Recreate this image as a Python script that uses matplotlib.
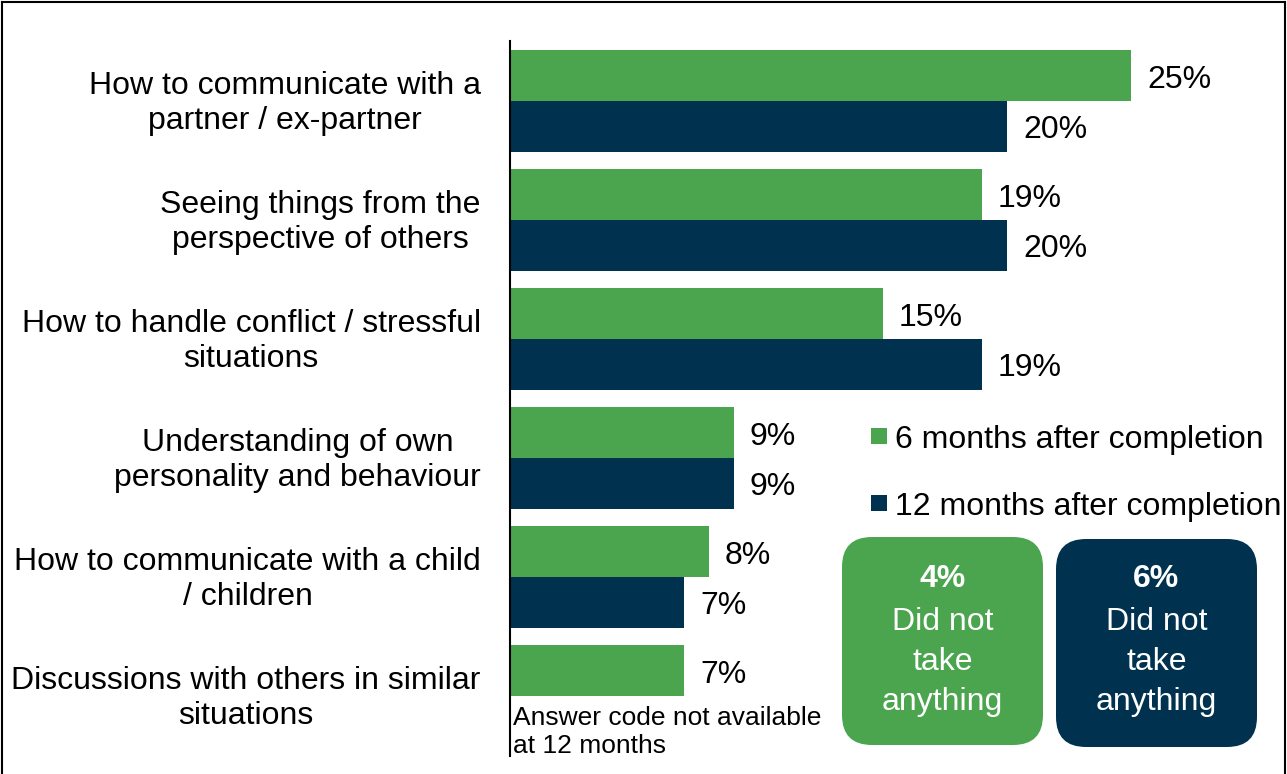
import matplotlib.pyplot as plt
from matplotlib.patches import FancyBboxPatch, Rectangle
from matplotlib.lines import Line2D
import numpy as np

plt.rcParams['font.family'] = ['Liberation Sans', 'DejaVu Sans']

categories = ['How to communicate with a\npartner / ex-partner',
              'Seeing things from the\nperspective of others',
              'How to handle conflict / stressful\nsituations',
              'Understanding of own\npersonality and behaviour',
              'How to communicate with a child\n/ children',
              'Discussions with others in similar\nsituations']
six_months = [25, 19, 15, 9, 8, 7]
twelve_months = [20, 20, 19, 9, 7, None]
series_names = ['6 months after completion', '12 months after completion']
nothing_taken = [4, 6]

green = '#4ba54f'
navy = '#00324f'
fs = 23

W, H = 1287, 774
fig = plt.figure(figsize=(W / 100, H / 100), dpi=100)

# axes placed in pixel terms: left edge 510, top 41, bottom 756
ax_left, ax_top, ax_bot, ax_right = 510, 41, 756, 1280
ax = fig.add_axes([ax_left / W, 1 - ax_bot / H, (ax_right - ax_left) / W, (ax_bot - ax_top) / H])

y = np.arange(len(categories))
h = 0.425
ax.barh(y - h / 2, six_months, height=h, color=green)
y12 = [yy for yy, v in zip(y, twelve_months) if v is not None]
v12 = [v for v in twelve_months if v is not None]
ax.barh(np.array(y12) + h / 2, v12, height=h, color=navy)

for yy, v in zip(y, six_months):
    ax.text(v + 0.65, yy - h / 2 + 0.035, f'{v}%', va='center', ha='left', fontsize=fs)
for yy, v in zip(y12, v12):
    ax.text(v + 0.65, yy + h / 2 + 0.035, f'{v}%', va='center', ha='left', fontsize=fs)

ax.set_xlim(0, (ax_right - ax_left) / 24.84)
ax.set_ylim(5.504, -0.504)
ax.set_yticks(y - 0.03)
ax.set_yticklabels(categories, fontsize=fs, ha='right', multialignment='center', linespacing=1.23)
ax.tick_params(axis='y', length=0, pad=21)
ax.set_xticks([])
for s in ['top', 'right', 'bottom']:
    ax.spines[s].set_visible(False)
ax.spines['left'].set_linewidth(1.5)

fig.text(513 / W, 1 - 706 / H, 'Answer code not available\nat 12 months', fontsize=19,
         va='top', ha='left', linespacing=1.22)

# legend drawn by hand
for i, (name, col) in enumerate(zip(series_names, [green, navy])):
    cy = 436 + 67 * i
    fig.patches.append(Rectangle((871 / W, 1 - (cy + 8) / H), 16 / W, 16 / H,
                                 transform=fig.transFigure, facecolor=col, edgecolor='none'))
    fig.text(895 / W, 1 - cy / H, name, fontsize=fs, va='center_baseline', ha='left')

# "did not take anything" boxes
boxes = [(842, 537, green), (1056, 539, navy)]
for (bx, by, col), pct in zip(boxes, nothing_taken):
    bw, bh = 201, 208
    r = 30
    fig.patches.append(FancyBboxPatch(((bx + r) / W, 1 - (by + bh - r) / H), (bw - 2 * r) / W, (bh - 2 * r) / H,
                                      boxstyle=f'round,pad={r / W}', transform=fig.transFigure,
                                      facecolor=col, edgecolor='none',
                                      mutation_aspect=W / H))
    cx = (bx + bw / 2) / W
    fig.text(cx, 1 - 579 / H, f'{pct}%', color='white', fontsize=fs, fontweight='bold',
             ha='center', va='center')
    fig.text(cx, 1 - 662 / H, 'Did not\ntake\nanything', color='white', fontsize=fs,
             ha='center', va='center', linespacing=1.43)

# frame around the figure (no bottom edge)
for xs, ys in [([2 / W, 2 / W], [0, 1 - 2 / H]), ([2 / W, 1285 / W], [1 - 2 / H, 1 - 2 / H]),
               ([1285 / W, 1285 / W], [0, 1 - 2 / H])]:
    fig.add_artist(Line2D(xs, ys, color='black', linewidth=1.5, transform=fig.transFigure))

fig.savefig('out.png', dpi=100)
